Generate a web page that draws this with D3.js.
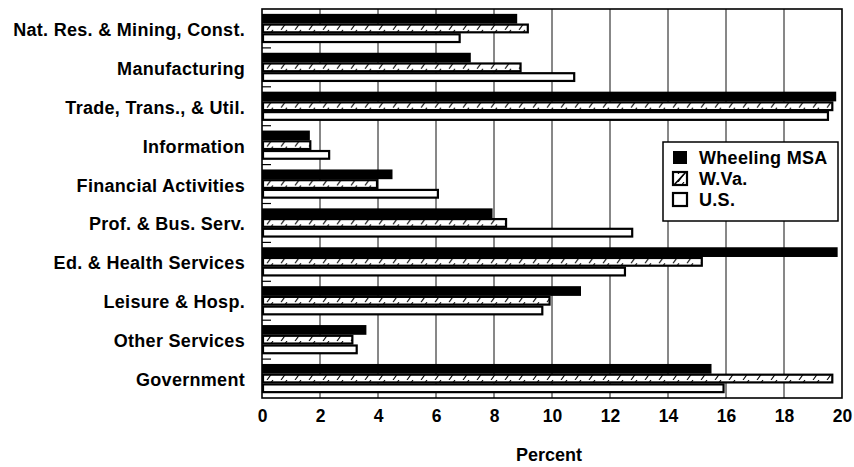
<!DOCTYPE html>
<html>
<head>
<meta charset="utf-8">
<script src="https://cdn.jsdelivr.net/npm/d3@7"></script>
<style>
  html, body { margin: 0; padding: 0; background: #fff; }
  svg { display: block; }
  text { font-family: "Liberation Sans", Arial, sans-serif; font-weight: bold; fill: #000; }
</style>
</head>
<body>
<svg id="chart" width="854" height="467"></svg>
<script>
const categories = [
  "Nat. Res. & Mining, Const.",
  "Manufacturing",
  "Trade, Trans., & Util.",
  "Information",
  "Financial Activities",
  "Prof. & Bus. Serv.",
  "Ed. & Health Services",
  "Leisure & Hosp.",
  "Other Services",
  "Government"
];
const seriesNames = ["Wheeling MSA", "W.Va.", "U.S."];
const wheeling = [8.8, 7.2, 19.8, 1.65, 4.5, 7.95, 19.85, 11.0, 3.6, 15.5];
const wva      = [9.2, 8.95, 19.7, 1.7, 4.0, 8.45, 15.2, 9.95, 3.15, 19.7];
const us       = [6.85, 10.8, 19.55, 2.35, 6.1, 12.8, 12.55, 9.7, 3.3, 15.95];
const xTicks = [0, 2, 4, 6, 8, 10, 12, 14, 16, 18, 20];
const xTitle = "Percent";

const seriesValues = [wheeling, wva, us];

const svg = d3.select("#chart");
const mLeft = 262, mRight = 842, mTop = 9, mBottom = 398;

const x = d3.scaleLinear().domain([0, 20]).range([mLeft, mRight]);
const y0 = d3.scaleBand().domain(categories).range([mTop, mBottom]).paddingInner(0.25).paddingOuter(0.125);
const y1 = d3.scaleBand().domain(seriesNames).range([0, y0.bandwidth()]);

const defs = svg.append("defs");
const pat = defs.append("pattern")
  .attr("id", "hatch")
  .attr("patternUnits", "userSpaceOnUse")
  .attr("width", 14).attr("height", 8);
pat.append("rect").attr("width", 14).attr("height", 8).attr("fill", "#fff");
pat.append("line").attr("x1", 1).attr("y1", 8).attr("x2", 7).attr("y2", 0)
  .attr("stroke", "#000").attr("stroke-width", 1.1);

// gridlines
svg.append("g").selectAll("line").data(xTicks.slice(1, -1)).join("line")
  .attr("x1", d => x(d)).attr("x2", d => x(d))
  .attr("y1", mTop).attr("y2", mBottom)
  .attr("stroke", "#111").attr("stroke-width", 1);

// bars
const fills = ["#000", "url(#hatch)", "#fff"];
const groups = svg.append("g").selectAll("g").data(categories).join("g")
  .attr("transform", d => `translate(0,${y0(d)})`);
groups.each(function(cat, ci) {
  const g = d3.select(this);
  seriesNames.forEach((s, si) => {
    const v = seriesValues[si][ci];
    const h = y1.bandwidth();
    g.append("rect")
      .attr("x", x(0) + (si === 0 ? 0 : 1))
      .attr("y", y1(s) + (si === 0 ? 0 : 1))
      .attr("width", x(v) - x(0) - (si === 0 ? 0 : 2))
      .attr("height", h - (si === 0 ? 0 : 2))
      .attr("fill", fills[si])
      .attr("stroke", si === 0 ? "none" : "#000")
      .attr("stroke-width", 2.2);
  });
});

// category boundary ticks (inward)
const boundaries = categories.slice(1).map(c => y0(c) - y0.step() * y0.paddingInner() / 2);
svg.append("g").selectAll("line").data(boundaries).join("line")
  .attr("x1", mLeft).attr("x2", mLeft + 9)
  .attr("y1", d => d).attr("y2", d => d)
  .attr("stroke", "#000").attr("stroke-width", 1.2);

// frame
svg.append("rect").attr("x", mLeft).attr("y", mTop)
  .attr("width", mRight - mLeft).attr("height", mBottom - mTop)
  .attr("fill", "none").attr("stroke", "#000").attr("stroke-width", 1.6);

// category labels
svg.append("g").selectAll("text").data(categories).join("text")
  .attr("x", 245)
  .attr("y", d => y0(d) + y0.bandwidth() / 2 + 1)
  .attr("dy", "0.36em")
  .attr("text-anchor", "end")
  .attr("font-size", 18)
  .attr("letter-spacing", 0.3)
  .text(d => d);

// x axis labels
const xAxis = d3.axisBottom(x).tickValues(xTicks).tickSize(0).tickPadding(0).tickFormat(d3.format("d"));
const xg = svg.append("g").attr("transform", `translate(0,${mBottom})`).call(xAxis);
xg.select(".domain").remove();
xg.selectAll("text")
  .attr("y", 17.5)
  .attr("dy", "0.36em")
  .attr("font-size", 17.5)
  .attr("font-family", "Liberation Sans, Arial, sans-serif")
  .attr("font-weight", "bold")
  .attr("fill", "#000");

svg.append("text")
  .attr("x", (mLeft + mRight) / 2 - 3)
  .attr("y", 455)
  .attr("dy", "0.36em")
  .attr("text-anchor", "middle")
  .attr("font-size", 18)
  .text(xTitle);

// legend
const lg = svg.append("g").attr("transform", "translate(663,142)");
lg.append("rect").attr("width", 175).attr("height", 79)
  .attr("fill", "#fff").attr("stroke", "#000").attr("stroke-width", 1.5);
seriesNames.forEach((s, i) => {
  const yy = 9 + i * 21;
  lg.append("rect").attr("x", 10).attr("y", yy).attr("width", 14).attr("height", 13)
    .attr("fill", fills[i]).attr("stroke", "#000").attr("stroke-width", i === 0 ? 0 : 2.2);
  if (i === 1) {
    lg.append("line").attr("x1", 11).attr("y1", yy + 13).attr("x2", 23).attr("y2", yy)
      .attr("stroke", "#000").attr("stroke-width", 1.6);
  }
  lg.append("text").attr("x", 36).attr("y", yy + 7).attr("dy", "0.36em")
    .attr("font-size", 18).attr("letter-spacing", 0.3).text(s);
});
</script>
</body>
</html>
